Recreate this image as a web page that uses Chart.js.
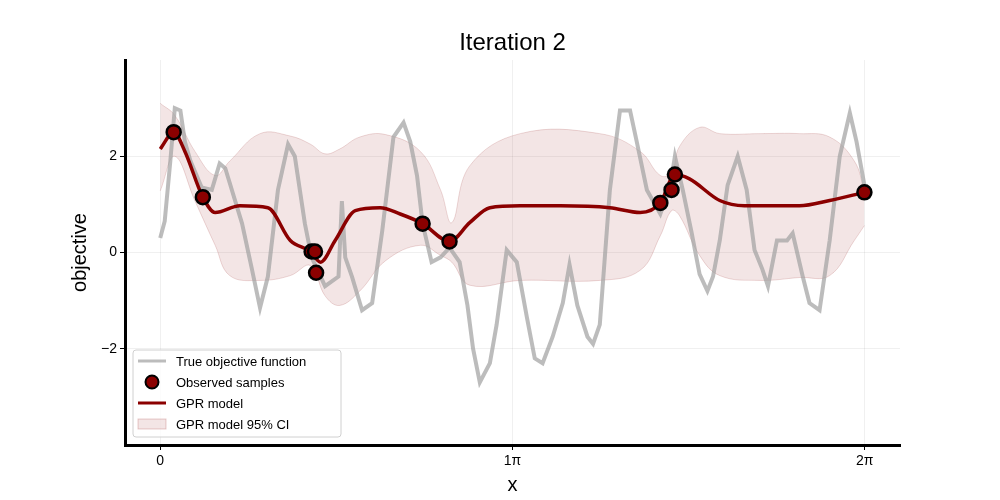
<!DOCTYPE html>
<html>
<head>
<meta charset="utf-8">
<script src="https://cdn.jsdelivr.net/npm/chart.js@4/dist/chart.umd.min.js"></script>
<style>
  body { margin: 0; background: #fff; }
  #wrap { width: 1000px; height: 500px; }
</style>
</head>
<body>
<div id="wrap"><canvas id="chart" width="1000" height="500"></canvas></div>
<script>
// true objective function
const trueX = [0.00, 0.04, 0.09, 0.13, 0.18, 0.22, 0.27, 0.37, 0.46, 0.53, 0.58, 0.73, 0.82, 0.89, 0.96, 1.05, 1.14, 1.20, 1.29, 1.35,
    1.47, 1.59, 1.62, 1.65, 1.71, 1.80, 1.89, 1.98, 2.08, 2.17, 2.23, 2.29, 2.34, 2.42, 2.50, 2.58, 2.67, 2.74, 2.79, 2.85,
    2.94, 3.00, 3.09, 3.18, 3.27, 3.34, 3.41, 3.50, 3.59, 3.65, 3.72, 3.81, 3.86, 3.92, 4.01, 4.10, 4.19, 4.25, 4.34, 4.46,
    4.55, 4.59, 4.66, 4.74, 4.81, 4.88, 4.93, 4.99, 5.06, 5.15, 5.23, 5.30, 5.37, 5.42, 5.50, 5.59, 5.64, 5.73, 5.79, 5.88,
    5.97, 6.06, 6.15, 6.21, 6.28];
const trueY = [0.3, 0.65, 1.9, 3.0, 2.95, 2.3, 1.9, 1.35, 1.3, 1.85, 1.75, 0.6, -0.37, -1.15, -0.5, 1.3, 2.25, 2.0, 0.6, -0.1,
    -0.7, -0.5, 1.07, -0.1, -0.5, -1.2, -1.05, 0.45, 2.4, 2.7, 2.3, 1.6, 0.6, -0.2, -0.1, 0.1, -0.2, -1.1, -2.0, -2.7,
    -2.3, -1.5, 0.05, -0.2, -1.35, -2.2, -2.3, -1.75, -1.05, -0.25, -1.1, -1.75, -1.9, -1.5, 1.3, 2.95, 2.95, 2.3, 1.3, 0.8,
    1.4, 2.0, 1.3, 0.4, -0.45, -0.8, -0.5, 0.25, 1.4, 2.0, 1.3, 0.05, -0.35, -0.7, 0.25, 0.25, 0.4, -0.5, -1.05, -1.2,
    0.25, 2.0, 2.9, 2.3, 1.4];

// observed samples
const sampleX = [0.12, 0.38, 1.35, 1.38, 1.39, 2.34, 2.58, 4.46, 4.56, 4.59, 6.28];
const sampleY = [2.5, 1.15, 0.02, 0.02, -0.42, 0.6, 0.23, 1.03, 1.3, 1.62, 1.25];

// GPR mean
const gprX = [0.00, 0.12, 0.22, 0.38, 0.49, 0.71, 0.96, 1.16, 1.34, 1.43, 1.56, 1.74, 1.96, 2.14, 2.34, 2.58, 2.76, 2.94, 3.21,
    3.57, 4.01, 4.28, 4.46, 4.59, 4.72, 4.99, 5.21, 5.70, 5.97, 6.28];
const gprY = [2.15, 2.5, 2.1, 1.15, 0.83, 0.97, 0.93, 0.25, 0.02, -0.2, 0.25, 0.87, 0.93, 0.8, 0.6, 0.23, 0.62, 0.93, 0.97,
    0.97, 0.93, 0.83, 1.03, 1.62, 1.53, 1.08, 0.97, 0.97, 1.08, 1.25];

// 95% CI band
const ciX = [0.00, 0.13, 0.31, 0.49, 0.62, 0.89, 1.16, 1.34, 1.47, 1.60, 1.78, 2.01, 2.32, 2.50, 2.60, 2.76, 3.21, 3.92, 4.28,
    4.46, 4.56, 4.63, 4.81, 4.99, 5.35, 5.70, 5.97, 6.19, 6.28];
const ciUpper = [3.1, 2.85, 2.1, 1.6, 1.9, 2.47, 2.42, 2.25, 2.05, 2.15, 2.4, 2.45, 2.1, 1.3, 0.62, 1.8, 2.47, 2.47, 2.1,
    1.6, 1.65, 2.2, 2.6, 2.47, 2.47, 2.47, 2.4, 1.9, 1.28];
const ciLower = [1.28, 2.0, 1.07, 0.15, -0.48, -0.58, -0.48, -0.27, -0.9, -1.1, -0.8, -0.17, 0.15, -0.06, -0.2, -0.68, -0.58, -0.58, -0.37,
    0.35, 0.87, 0.77, -0.06, -0.48, -0.58, -0.52, -0.48, 0.25, 0.56];

const xTicks = [0, Math.PI, 2 * Math.PI];
const xTickLabels = ['0', '1π', '2π'];
const yTicks = [-2, 0, 2];

const RED = '#8b0000';
const GREY = 'rgba(160,160,160,0.7)';
const BAND = 'rgba(139,0,0,0.1)';
const FONT = '"Liberation Sans", Arial, sans-serif';

const pts = (xs, ys) => xs.map((x, i) => ({ x: x, y: ys[i] }));

const legendItems = [
    { label: 'True objective function', kind: 'line', color: GREY, width: 3 },
    { label: 'Observed samples', kind: 'dot' },
    { label: 'GPR model', kind: 'line', color: RED, width: 3 },
    { label: 'GPR model 95% CI', kind: 'box' }
];

const decorations = {
    id: 'decorations',
    afterDraw(chart) {
        const ctx = chart.ctx;
        const area = chart.chartArea;
        ctx.save();
        ctx.fillStyle = '#000';
        ctx.textAlign = 'center';
        ctx.textBaseline = 'middle';
        ctx.font = '24px ' + FONT;
        ctx.fillText('Iteration 2', (area.left + area.right) / 2, 43);
        ctx.font = '20px ' + FONT;
        ctx.fillText('x', (area.left + area.right) / 2, 485);
        ctx.save();
        ctx.translate(80, (area.top + area.bottom) / 2);
        ctx.rotate(-Math.PI / 2);
        ctx.fillText('objective', 0, 0);
        ctx.restore();

        // legend box
        const lx = 133, ly = 350, lw = 208, lh = 87;
        ctx.fillStyle = 'rgba(255,255,255,0.8)';
        ctx.strokeStyle = '#d0d0d0';
        ctx.lineWidth = 1;
        ctx.beginPath();
        ctx.roundRect(lx, ly, lw, lh, 3);
        ctx.fill();
        ctx.stroke();
        ctx.font = '13px ' + FONT;
        ctx.textAlign = 'left';
        legendItems.forEach((it, i) => {
            const cy = ly + 11 + i * 21;
            if (it.kind === 'line') {
                ctx.strokeStyle = it.color;
                ctx.lineWidth = it.width;
                ctx.beginPath();
                ctx.moveTo(lx + 5, cy);
                ctx.lineTo(lx + 33, cy);
                ctx.stroke();
            } else if (it.kind === 'dot') {
                ctx.fillStyle = RED;
                ctx.strokeStyle = '#000';
                ctx.lineWidth = 2;
                ctx.beginPath();
                ctx.arc(lx + 19, cy, 6.5, 0, Math.PI * 2);
                ctx.fill();
                ctx.stroke();
            } else {
                ctx.fillStyle = BAND;
                ctx.strokeStyle = 'rgba(139,0,0,0.2)';
                ctx.lineWidth = 1;
                ctx.fillRect(lx + 5, cy - 5, 28, 10);
                ctx.strokeRect(lx + 5, cy - 5, 28, 10);
            }
            ctx.fillStyle = '#000';
            ctx.fillText(it.label, lx + 43, cy + 1);
        });
        ctx.restore();
    }
};

new Chart(document.getElementById('chart').getContext('2d'), {
    type: 'line',
    data: {
        datasets: [
            { label: 'CI upper', data: pts(ciX, ciUpper), borderColor: 'rgba(139,0,0,0.15)', borderWidth: 1,
              pointRadius: 0, fill: false, tension: 0.4, order: 5 },
            { label: 'GPR model 95% CI', data: pts(ciX, ciLower), borderColor: 'rgba(139,0,0,0.15)', borderWidth: 1,
              backgroundColor: BAND, pointRadius: 0, fill: '-1', tension: 0.4, order: 4 },
            { label: 'True objective function', data: pts(trueX, trueY), borderColor: GREY, borderWidth: 4,
              pointRadius: 0, fill: false, tension: 0, order: 3 },
            { label: 'GPR model', data: pts(gprX, gprY), borderColor: RED, borderWidth: 3.5,
              pointRadius: 0, fill: false, cubicInterpolationMode: 'monotone', order: 2 },
            { type: 'scatter', label: 'Observed samples', data: pts(sampleX, sampleY), backgroundColor: RED,
              borderColor: '#000', borderWidth: 2.5, pointRadius: 7, order: 1 }
        ]
    },
    options: {
        responsive: false,
        animation: false,
        layout: { padding: { top: 60, right: 100, left: 0, bottom: 0 } },
        plugins: { legend: { display: false }, title: { display: false }, tooltip: { enabled: false } },
        scales: {
            x: {
                type: 'linear',
                min: -0.05 * 2 * Math.PI,
                max: 1.05 * 2 * Math.PI,
                afterBuildTicks: (s) => { s.ticks = xTicks.map(v => ({ value: v })); },
                afterFit: (s) => { s.height = 55; },
                ticks: {
                    color: '#000',
                    font: { family: FONT, size: 14 },
                    callback: (v, i) => xTickLabels[i]
                },
                grid: { color: 'rgba(0,0,0,0.06)', tickColor: '#000', tickLength: 5 },
                border: { color: '#000', width: 3 }
            },
            y: {
                min: -4,
                max: 4,
                afterBuildTicks: (s) => { s.ticks = yTicks.map(v => ({ value: v })); },
                afterFit: (s) => { s.width = 125; },
                ticks: {
                    color: '#000',
                    font: { family: FONT, size: 14 },
                    callback: (v) => v < 0 ? '\u2212' + Math.abs(v) : String(v)
                },
                grid: { color: 'rgba(0,0,0,0.06)', tickColor: '#000', tickLength: 5 },
                border: { color: '#000', width: 3 }
            }
        }
    },
    plugins: [decorations]
});
</script>
</body>
</html>
